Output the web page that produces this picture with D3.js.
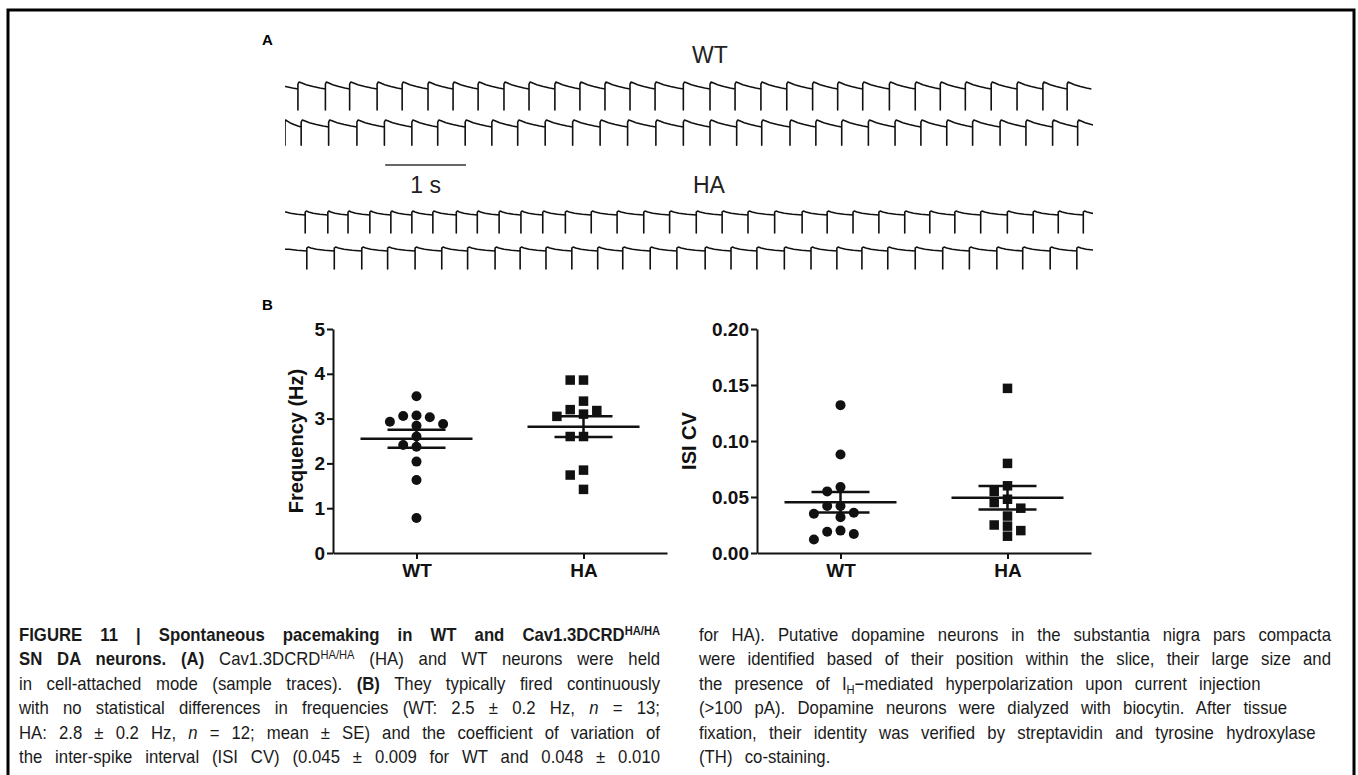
<!DOCTYPE html>
<html>
<head>
<meta charset="utf-8">
<script src="https://cdn.jsdelivr.net/npm/d3@7"></script>
<style>
  body { margin: 0; background: #fff; }
  svg { display: block; }
</style>
</head>
<body>
<svg id="fig" width="1358" height="775"></svg>
<script>
// ---- panel A: spike times (s) ----
const wtTrace1 = [0.16, 0.50, 0.80, 1.14, 1.45, 1.77, 2.08, 2.39, 2.71, 3.02, 3.34, 3.65, 3.96, 4.27, 4.58, 4.93,
  5.26, 5.57, 5.89, 6.21, 6.53, 6.84, 7.15, 7.48, 7.80, 8.11, 8.42, 8.74, 9.06, 9.38, 9.68];
const wtTrace2 = [0.0, 0.20, 0.54, 0.89, 1.23, 1.57, 1.89, 2.23, 2.56, 2.88, 3.22, 3.56, 3.90, 4.24, 4.59, 4.93,
  5.26, 5.59, 5.90, 6.25, 6.57, 6.89, 7.22, 7.55, 7.87, 8.19, 8.51, 8.85, 9.17, 9.50, 9.81];
const haTrace1 = [0.25, 0.53, 0.78, 1.05, 1.31, 1.57, 1.83, 2.12, 2.38, 2.65, 2.92, 3.19, 3.47, 3.79, 4.11, 4.44,
  4.76, 5.09, 5.41, 5.73, 6.06, 6.40, 6.71, 7.03, 7.35, 7.67, 7.98, 8.29, 8.61, 8.94, 9.26, 9.57, 9.88];
const haTrace2 = [0.27, 0.61, 0.95, 1.27, 1.61, 1.94, 2.26, 2.60, 2.91, 3.23, 3.55, 3.87, 4.18, 4.52, 4.85, 5.20,
  5.52, 5.84, 6.18, 6.51, 6.83, 7.14, 7.46, 7.80, 8.14, 8.47, 8.81, 9.13, 9.47, 9.80];
// after-spike waveform, [fraction of the interval, normalised level]
const wtShape = [[0, 0.7], [0.04, 1], [0.12, 0.88], [0.3, 0.62], [0.55, 0.36], [0.8, 0.14], [1, 0]];
const haShape = [[0, 0.7], [0.05, 1], [0.15, 0.75], [0.35, 0.45], [0.65, 0.2], [1, 0]];
const traceDuration = 10;   // s
const scaleBarStart = 1.24; // s
const scaleBarLength = 1;   // s

// ---- panel B ----
const groups = ["WT", "HA"];
const freqWT = [3.50, 3.07, 3.06, 3.03, 2.93, 2.88, 2.84, 2.60, 2.41, 2.37, 2.04, 1.63, 0.78];
const freqHA = [3.86, 3.86, 3.39, 3.20, 3.18, 3.10, 3.05, 2.60, 2.60, 1.85, 1.74, 1.42];
const isiWT = [0.132, 0.088, 0.059, 0.055, 0.042, 0.042, 0.036, 0.035, 0.032, 0.020, 0.019, 0.017, 0.012];
const isiHA = [0.147, 0.080, 0.060, 0.055, 0.048, 0.045, 0.040, 0.033, 0.025, 0.024, 0.020, 0.015];
const freqTicks = [0, 1, 2, 3, 4, 5];
const isiTicks = [0, 0.05, 0.10, 0.15, 0.20];

// ---- caption (segments: text, style) ----
const captionLeft = [
  { justify: true, segs: [["FIGURE 11 | Spontaneous pacemaking in WT and Cav1.3DCRD", "b"], ["HA/HA", "b sup"]] },
  { justify: true, segs: [["SN DA neurons. (A) ", "b"], ["Cav1.3DCRD", ""], ["HA/HA", "sup"], [" (HA) and WT neurons were held", ""]] },
  { justify: true, segs: [["in cell-attached mode (sample traces). ", ""], ["(B)", "b"], [" They typically fired continuously", ""]] },
  { justify: true, segs: [["with no statistical differences in frequencies (WT: 2.5 \u00b1 0.2 Hz, ", ""], ["n", "i"], [" = 13;", ""]] },
  { justify: true, segs: [["HA: 2.8 \u00b1 0.2 Hz, ", ""], ["n", "i"], [" = 12; mean \u00b1 SE) and the coefficient of variation of", ""]] },
  { justify: true, segs: [["the inter-spike interval (ISI CV) (0.045 \u00b1 0.009 for WT and 0.048 \u00b1 0.010", ""]] }
];
const captionRight = [
  { justify: true, segs: [["for HA). Putative dopamine neurons in the substantia nigra pars compacta", ""]] },
  { justify: true, segs: [["were identified based of their position within the slice, their large size and", ""]] },
  { justify: false, segs: [["the presence of I", ""], ["H", "sub"], ["\u2212mediated hyperpolarization upon current injection", ""]] },
  { justify: false, segs: [["(>100 pA). Dopamine neurons were dialyzed with biocytin. After tissue", ""]] },
  { justify: false, segs: [["fixation, their identity was verified by streptavidin and tyrosine hydroxylase", ""]] },
  { justify: false, segs: [["(TH) co-staining.", ""]] }
];

const svg = d3.select("#fig");
const sans = "'Liberation Sans', Arial, Helvetica, sans-serif";

// frame
svg.append("rect")
  .attr("x", 8).attr("y", 10).attr("width", 1346).attr("height", 800)
  .attr("fill", "none").attr("stroke", "#000").attr("stroke-width", 3);

// panel letters
svg.append("text").attr("x", 262).attr("y", 45).text("A")
  .attr("font-family", sans).attr("font-weight", "bold").attr("font-size", 15);
svg.append("text").attr("x", 262).attr("y", 310).text("B")
  .attr("font-family", sans).attr("font-weight", "bold").attr("font-size", 15);

// ===== traces =====
const xT = d3.scaleLinear().domain([0, traceDuration]).range([285, 1093]);

svg.append("clipPath").attr("id", "traceClip")
  .append("rect").attr("x", xT(0)).attr("y", 0).attr("width", xT(traceDuration) - xT(0)).attr("height", 300);

function buildTrace(times, shape, depth) {
  const pts = [];
  const n = times.length;
  const gap = i => i < n - 1 ? times[i + 1] - times[i] : times[i] - times[i - 1];
  // tail of the cycle before the first spike
  const g0 = times[1] - times[0];
  shape.forEach(([f, v]) => {
    const t = times[0] - g0 + f * g0;
    if (t > 0) pts.push([t, v]);
  });
  pts.unshift([0, pts.length ? pts[0][1] : 0]);
  times.forEach((t, i) => {
    pts.push([t, 0], [t, -depth]);
    shape.forEach(([f, v]) => pts.push([t + f * gap(i), v]));
  });
  return pts;
}

const traceRows = [
  { times: wtTrace1, shape: wtShape, base: 89, unit: 7, depth: 3 },
  { times: wtTrace2, shape: wtShape, base: 127, unit: 7, depth: 2.6 },
  { times: haTrace1, shape: haShape, base: 215, unit: 4, depth: 4.5 },
  { times: haTrace2, shape: haShape, base: 251, unit: 4, depth: 4.5 }
];

const traceG = svg.append("g").attr("clip-path", "url(#traceClip)");
traceRows.forEach(row => {
  const yT = d3.scaleLinear().domain([0, 1]).range([row.base, row.base - row.unit]);
  const line = d3.line().x(d => xT(d[0])).y(d => yT(d[1]));
  traceG.append("path")
    .attr("d", line(buildTrace(row.times, row.shape, row.depth)))
    .attr("fill", "none").attr("stroke", "#111").attr("stroke-width", 1.6)
    .attr("stroke-linejoin", "round");
});

// scale bar
svg.append("line")
  .attr("x1", xT(scaleBarStart)).attr("x2", xT(scaleBarStart + scaleBarLength))
  .attr("y1", 165).attr("y2", 165)
  .attr("stroke", "#333").attr("stroke-width", 1.5);
svg.append("text")
  .attr("x", (xT(scaleBarStart) + xT(scaleBarStart + scaleBarLength)) / 2).attr("y", 193)
  .attr("text-anchor", "middle").text("1 s")
  .attr("font-family", sans).attr("font-size", 23).attr("fill", "#222");

svg.append("text").attr("x", 692).attr("y", 63).text("WT")
  .attr("font-family", sans).attr("font-size", 23).attr("fill", "#222");
svg.append("text").attr("x", 693).attr("y", 193).text("HA")
  .attr("font-family", sans).attr("font-size", 23).attr("fill", "#222");

// ===== scatter panels =====
const plotW = 334, yTop = 329, yBottom = 553;
const dotR = 5, sq = 9.5;
const meanHalf = 56, seHalf = 29;

function swarm(values, y, cx, step, minDist) {
  const placed = [];
  const order = values.map((v, i) => i).sort((a, b) => values[b] - values[a]);
  order.forEach(i => {
    const py = y(values[i]);
    for (let k = 0; k < 50; k++) {
      const off = k === 0 ? 0 : (k % 2 ? -1 : 1) * Math.ceil(k / 2) * step;
      const px = cx + off;
      if (placed.every(p => Math.hypot(p.x - px, p.y - py) >= minDist)) {
        placed.push({ x: px, y: py });
        break;
      }
    }
  });
  return placed;
}

const panels = [
  { x0: 333, data: [freqWT, freqHA], ticks: freqTicks, domain: [0, 5], fmt: d3.format("d"), label: "Frequency (Hz)", labelX: 296 },
  { x0: 757, data: [isiWT, isiHA], ticks: isiTicks, domain: [0, 0.2], fmt: d3.format(".2f"), label: "ISI CV", labelX: 689 }
];

panels.forEach(p => {
  const g = svg.append("g");
  const y = d3.scaleLinear().domain(p.domain).range([yBottom, yTop]);
  const x = d3.scalePoint().domain(groups).range([p.x0, p.x0 + plotW]).padding(0.5);

  const ya = g.append("g").attr("transform", `translate(${p.x0},0)`)
    .call(d3.axisLeft(y).tickValues(p.ticks).tickFormat(p.fmt).tickSize(6).tickPadding(2).tickSizeOuter(0));
  const xa = g.append("g").attr("transform", `translate(0,${yBottom})`)
    .call(d3.axisBottom(x).tickSize(6).tickPadding(5).tickSizeOuter(0));
  [ya, xa].forEach(a => {
    a.select(".domain").attr("stroke", "#111").attr("stroke-width", 2);
    a.selectAll(".tick line").attr("stroke", "#111").attr("stroke-width", 2);
    a.selectAll(".tick text").attr("font-family", sans).attr("font-weight", "bold")
      .attr("font-size", 19).attr("fill", "#111");
  });

  g.append("text")
    .attr("transform", `translate(${p.labelX},${(yTop + yBottom) / 2}) rotate(-90)`)
    .attr("text-anchor", "middle").attr("dominant-baseline", "central")
    .attr("font-family", sans).attr("font-weight", "bold").attr("font-size", 20).attr("fill", "#111")
    .text(p.label);

  groups.forEach((grp, gi) => {
    const vals = p.data[gi];
    const cx = x(grp);
    const pts = swarm(vals, y, cx, 13.3, 10);
    if (gi === 0) {
      g.selectAll(null).data(pts).join("circle")
        .attr("cx", d => d.x).attr("cy", d => d.y).attr("r", dotR).attr("fill", "#111");
    } else {
      g.selectAll(null).data(pts).join("rect")
        .attr("x", d => d.x - sq / 2).attr("y", d => d.y - sq / 2)
        .attr("width", sq).attr("height", sq).attr("fill", "#111");
    }
    const m = d3.mean(vals);
    const se = d3.deviation(vals) / Math.sqrt(vals.length);
    g.append("line").attr("x1", cx - meanHalf).attr("x2", cx + meanHalf)
      .attr("y1", y(m)).attr("y2", y(m)).attr("stroke", "#111").attr("stroke-width", 2.5);
    [m - se, m + se].forEach(v => {
      g.append("line").attr("x1", cx - seHalf).attr("x2", cx + seHalf)
        .attr("y1", y(v)).attr("y2", y(v)).attr("stroke", "#111").attr("stroke-width", 2.5);
    });
    g.append("line").attr("x1", cx).attr("x2", cx)
      .attr("y1", y(m - se)).attr("y2", y(m + se)).attr("stroke", "#111").attr("stroke-width", 2.5);
  });
});

// ===== caption =====
// condensed look: Liberation Sans squeezed horizontally
const capY0 = 641, capLead = 24.4, capSize = 18, capSqueeze = 0.93;

function drawCaption(lines, x0, width) {
  let lastSpacing = 0;
  lines.forEach((line, i) => {
    const t = svg.append("text")
      .attr("transform", `translate(${x0},${capY0 + i * capLead}) scale(${capSqueeze},1)`)
      .attr("font-family", sans).attr("font-size", capSize).attr("fill", "#1a1a1a");
    let shift = 0;
    line.segs.forEach(([s, st]) => {
      const ts = t.append("tspan").text(s);
      const styles = st.split(" ");
      if (styles.includes("b")) ts.attr("font-weight", "bold");
      if (styles.includes("i")) ts.attr("font-style", "italic");
      const newShift = styles.includes("sup") ? -6 : styles.includes("sub") ? 4 : 0;
      if (newShift !== 0) ts.attr("font-size", 12);
      if (newShift !== shift) ts.attr("dy", newShift - shift);
      shift = newShift;
    });
    const spaces = (t.text().match(/ /g) || []).length;
    if (line.justify && spaces) {
      const natural = t.node().getComputedTextLength();
      lastSpacing = (width / capSqueeze - natural) / spaces;
    }
    t.attr("word-spacing", lastSpacing);
  });
}

drawCaption(captionLeft, 19, 641);
drawCaption(captionRight, 699, 632);
</script>
</body>
</html>
